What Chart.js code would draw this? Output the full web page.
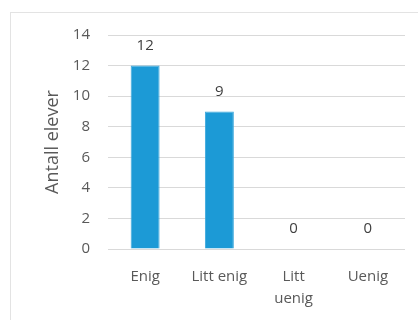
<!DOCTYPE html>
<html>
<head>
<meta charset="utf-8">
<script src="https://cdn.jsdelivr.net/npm/chart.js@4/dist/chart.umd.min.js"></script>
<style>
  html, body { margin: 0; padding: 0; background: #fff; overflow: hidden; }
  #frame { position: absolute; left: 10px; top: 12px; width: 430px; height: 330px; border: 1px solid #e3e3e3; }
  #wrap { position: absolute; left: 0; top: 0; width: 418px; height: 320px; }
</style>
</head>
<body>
<div id="frame"></div>
<div id="wrap"><canvas id="chart"></canvas></div>
<script>
// chart data
var categories = ["Enig", "Litt enig", ["Litt", "uenig"], "Uenig"];
var counts = [12, 9, 0, 0];
var yTicks = [0, 2, 4, 6, 8, 10, 12, 14];

var textColor = '#595959';
var gridColor = '#d9d9d9';
var fontFamily = '"Open Sans", sans-serif';

// value labels above bars
var valueLabels = {
  id: 'valueLabels',
  afterDatasetsDraw: function(chart) {
    var ctx = chart.ctx;
    var meta = chart.getDatasetMeta(0);
    ctx.save();
    ctx.fillStyle = '#404040';
    ctx.font = '15px ' + fontFamily;
    ctx.textAlign = 'center';
    ctx.textBaseline = 'middle';
    meta.data.forEach(function(bar, i) {
      ctx.fillText(counts[i], bar.x, bar.y - 20);
    });
    ctx.restore();
  }
};

var ctx = document.getElementById('chart');
new Chart(ctx, {
  type: 'bar',
  data: {
    labels: categories,
    datasets: [{
      data: counts,
      backgroundColor: '#1c9ad6',
      borderColor: '#3aa7dc',
      borderWidth: 1,
      barPercentage: 0.39,
      categoryPercentage: 1.0
    }]
  },
  options: {
    responsive: true,
    maintainAspectRatio: false,
    animation: false,
    devicePixelRatio: 1,
    layout: { padding: { left: 0, top: 35, right: 13, bottom: 0 } },
    plugins: { legend: { display: false }, tooltip: { enabled: false } },
    scales: {
      x: {
        grid: { display: false, drawTicks: false },
        border: { display: false },
        ticks: {
          color: textColor,
          padding: 17,
          maxRotation: 0,
          font: { family: fontFamily, size: 15, lineHeight: 1.45 }
        },
        afterFit: function(scale) { scale.height = 71; }
      },
      y: {
        min: 0,
        max: 14,
        afterBuildTicks: function(scale) {
          scale.ticks = yTicks.map(function(v) { return { value: v }; });
        },
        grid: { color: gridColor, drawTicks: false },
        border: { display: false },
        ticks: {
          color: textColor,
          padding: 18,
          font: { family: fontFamily, size: 15 }
        },
        title: {
          display: true,
          text: 'Antall elever',
          color: textColor,
          padding: { top: 42, bottom: 0 },
          font: { family: fontFamily, size: 18 }
        },
        afterFit: function(scale) { scale.width = 108; }
      }
    }
  },
  plugins: [valueLabels]
});
</script>
</body>
</html>
